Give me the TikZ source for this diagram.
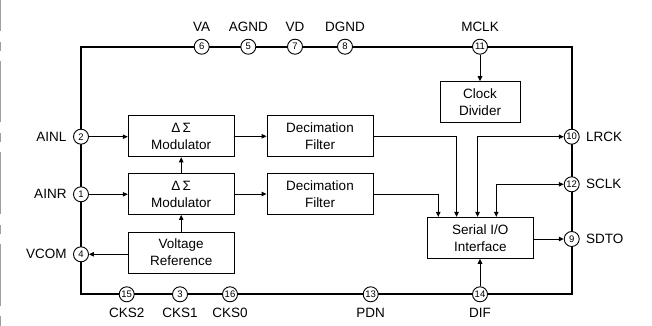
\documentclass[tikz,border=0pt]{standalone}
\usepackage{fontspec}
\setmainfont{Liberation Sans}
\usetikzlibrary{arrows.meta}
\begin{document}
\begin{tikzpicture}[x=1pt,y=-1pt,
 chipbox/.style={draw,line width=1.8pt,minimum width=490.7pt,minimum height=247.6pt,inner sep=0pt},
 pin/.style={circle,draw,fill=white,line width=0.9pt,minimum size=15pt,inner sep=0pt,font=\fontsize{9.5}{9.5}\selectfont},
 blk/.style={draw,line width=0.9pt,minimum width=106pt,minimum height=41pt,inner sep=0pt,align=center,font=\fontsize{13.5}{17}\selectfont},
 lbl/.style={font=\fontsize{13.5}{16}\selectfont,inner sep=0pt},
 arr/.style={line width=0.9pt,-{Triangle[length=5pt,width=4.5pt]}},
 barr/.style={line width=0.9pt,{Triangle[length=5pt,width=4.5pt]}-{Triangle[length=5pt,width=4.5pt]}},
 edgebar/.style={draw=gray!75,line width=1pt}]

\useasboundingbox (0,0) rectangle (652,326);

% scan-edge marks
\foreach \a/\b in {0/31,42/51,61/122,133/142,152/214,225/234,244/306,316/326}
  \draw[edgebar] (0.7,\a) -- (0.7,\b);

% chip outline
\node[chipbox] (chip) at (326.35,170.5) {};

% blocks
\node[blk] (mod1) at (181.2,136.3) {Δ\,Σ\\Modulator};
\node[blk] (mod2) at (181.2,194) {Δ\,Σ\\Modulator};
\node[blk] (vref) at (181.2,252.5) {Voltage\\Reference};
\node[blk] (dec1) at (320,136.3) {Decimation\\Filter};
\node[blk] (dec2) at (320,194) {Decimation\\Filter};
\node[blk,minimum width=80pt] (clk) at (480,102.2) {Clock\\Divider};
\node[blk] (ser) at (480.3,237.8) {Serial I/O\\Interface};

% pins top
\node[pin] (p6) at (201.7,46.7) {6};
\node[pin] (p5) at (248.3,46.7) {5};
\node[pin] (p7) at (295,46.7) {7};
\node[pin] (p8) at (345,46.7) {8};
\node[pin] (p11) at (480,46.7) {11};
\node[lbl] (lva) at (201.7,27) {VA};
\node[lbl] (lagnd) at (248.3,27) {AGND};
\node[lbl] (lvd) at (295,27) {VD};
\node[lbl] (ldgnd) at (345,27) {DGND};
\node[lbl] (lmclk) at (480,27) {MCLK};

% pins left
\node[pin] (p2) at (81,136.7) {2};
\node[pin] (p1) at (81,194.3) {1};
\node[pin] (p4) at (81,254.3) {4};
\node[lbl,anchor=east] (lainl) at (66.7,136.7) {AINL};
\node[lbl,anchor=east] (lainr) at (66.7,194.3) {AINR};
\node[lbl,anchor=east] (lvcom) at (66.7,254.3) {VCOM};

% pins right
\node[pin] (p10) at (571.7,136.7) {10};
\node[pin] (p12) at (571.7,184.3) {12};
\node[pin] (p9) at (571.7,239) {9};
\node[lbl,anchor=west] (llrck) at (586,136.7) {LRCK};
\node[lbl,anchor=west] (lsclk) at (586,184.3) {SCLK};
\node[lbl,anchor=west] (lsdto) at (586,239) {SDTO};

% pins bottom
\node[pin] (p15) at (126.7,294.3) {15};
\node[pin] (p3) at (180,294.3) {3};
\node[pin] (p16) at (230,294.3) {16};
\node[pin] (p13) at (370.7,294.3) {13};
\node[pin] (p14) at (480,294.3) {14};
\node[lbl] (lcks2) at (126.7,312.5) {CKS2};
\node[lbl] (lcks1) at (180,312.5) {CKS1};
\node[lbl] (lcks0) at (230,312.5) {CKS0};
\node[lbl] (lpdn) at (370.7,312.5) {PDN};
\node[lbl] (ldif) at (480,312.5) {DIF};

% connectors
\draw[arr] (p2) -- (p2 -| mod1.west);
\draw[arr] (p1) -- (p1 -| mod2.west);
\draw[arr] (mod1) -- (dec1);
\draw[arr] (mod2) -- (dec2);
\draw[arr] (mod2) -- (mod1);
\draw[arr] (vref) -- (mod2);
\draw[arr] (p4 -| vref.west) -- (p4);
\draw[arr] (p11) -- (clk);
\draw[arr] (dec1.east) -| ([xshift=29.7pt]ser.north west);
\draw[arr] (dec2.east) -| ([xshift=11.4pt]ser.north west);
\draw[barr] ([xshift=50.7pt]ser.north west) |- (p10);
\draw[barr] ([xshift=69.4pt]ser.north west) |- (p12);
\draw[arr] (ser.east |- p9) -- (p9);
\draw[arr] (p14) -- (p14 |- ser.south);
\end{tikzpicture}
\end{document}
